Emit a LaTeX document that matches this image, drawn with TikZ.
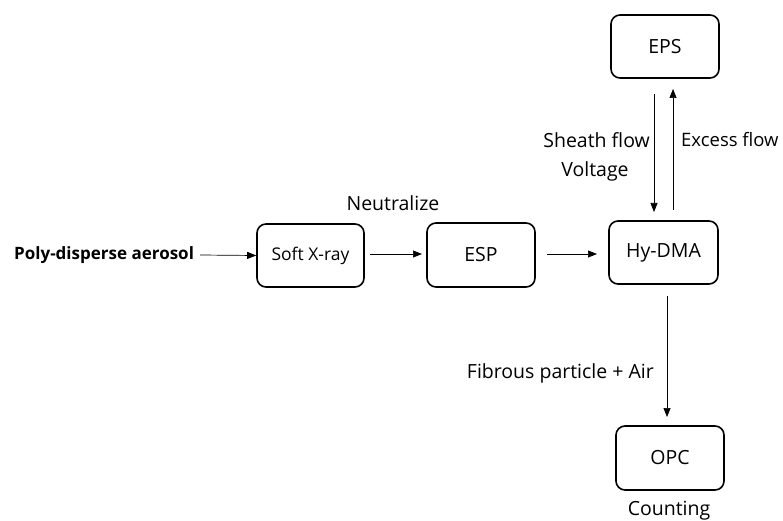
\documentclass[tikz,border=0pt]{standalone}
\usepackage{fontspec}
\setmainfont{Open Sans}
\usetikzlibrary{arrows.meta}
\begin{document}
\begin{tikzpicture}[x=1pt,y=-1pt,
  blk/.style={draw,line width=1.6pt,rounded corners=9pt,inner sep=0pt},
  arr/.style={-{Triangle[length=9pt,width=7pt]},line width=0.7pt},
  lbl/.style={inner sep=0pt},
  every node/.style={font=\fontsize{19.5}{22}\selectfont}]
\useasboundingbox (0,0) rectangle (783,521);
\node[blk,minimum width=107pt,minimum height=63pt,font=\fontsize{17.5}{20}\selectfont] (sx) at (310.5,255.5) {Soft X-ray};
\node[blk,minimum width=108pt,minimum height=64pt] (esp) at (481,255) {ESP};
\node[blk,minimum width=109pt,minimum height=63pt] (dma) at (663.5,252.5) {Hy-DMA};
\node[blk,minimum width=108pt,minimum height=63pt] (eps) at (665,46.5) {EPS};
\node[blk,minimum width=108pt,minimum height=64pt] (opc) at (670,458) {OPC};
\node[lbl,anchor=west,font=\bfseries\fontsize{17}{20}\selectfont] (src) at (14,255) {Poly-disperse aerosol};
\node[lbl] (neu) at (393,203) {Neutralize};
\node[lbl,anchor=east] (sh) at (650,140) {Sheath flow};
\node[lbl] (vo) at (595,171) {Voltage};
\node[lbl,anchor=west,font=\fontsize{18.5}{22}\selectfont] (ex) at (681,140) {Excess flow};
\node[lbl,anchor=east] (fib) at (654,373) {Fibrous particle + Air};
\node[lbl] (cnt) at (669,511) {Counting};
\coordinate (a1) at (200,255);
\draw[arr] (a1) -- (sx.west);
\coordinate (a2) at (370,254);
\coordinate (a2e) at (422,254);
\draw[arr] (a2) -- (a2e);
\coordinate (a3) at (547,254);
\coordinate (a3e) at (597,254);
\draw[arr] (a3) -- (a3e);
\coordinate (s1) at (654,94);
\coordinate (s2) at (654,212);
\draw[arr] (s1) -- (s2);
\coordinate (e1) at (673,210);
\coordinate (e2) at (673,89);
\draw[arr] (e1) -- (e2);
\coordinate (f1) at (667,296);
\coordinate (f2) at (667,417);
\draw[arr] (f1) -- (f2);
\end{tikzpicture}
\end{document}
